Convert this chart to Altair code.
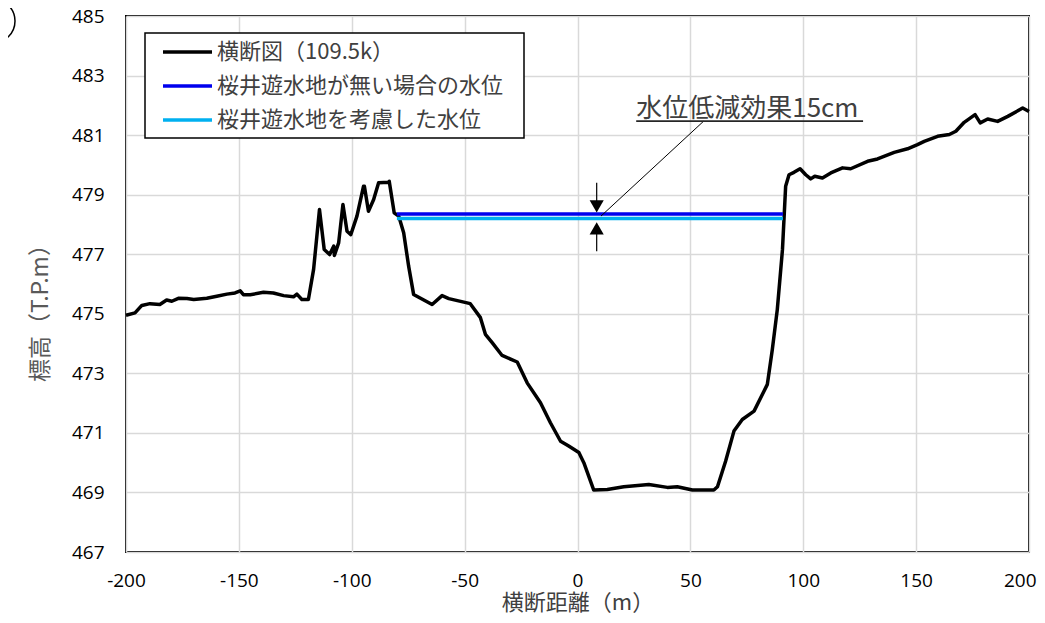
import altair as alt
import pandas as pd

# ---- data ----
profile_x = [-200, -196, -193, -189.4, -185, -182, -179.7, -176.8, -173, -170, -164.2, -159.8,
             -155.3, -151.7, -149.4, -148, -145, -139.1, -134.7, -130.2, -125.8, -124.3, -122.1,
             -119.2, -116.9, -114.3, -112.2, -109.8, -108, -107.7, -105.8, -103.9, -102.1, -100.4,
             -97.7, -94.8, -94.4, -92.6, -90.3, -88.1, -83.7, -83.4, -81.2, -79.2, -77, -74.8,
             -72.6, -64.4, -60, -57, -47.5, -43, -40.8, -37.8, -33.4, -26.7, -22.3, -16.4, -12,
             -7.5, -3.9, 0.6, 2.8, 7.2, 13.2, 20.5, 31.6, 39.8, 44.2, 50.9, 60.4, 62, 65.6, 69.3,
             73, 78.2, 84.1, 86.3, 88.5, 90.8, 92.2, 93.7, 95.9, 98.6, 101.1, 103.3, 105.1, 108.5,
             112.2, 117.4, 121, 128.5, 132.9, 140.3, 146.2, 150.6, 153.6, 159.5, 164.7, 167.6,
             171.3, 176.1, 178.4, 181.7, 186.1, 190.6, 197.2, 200]
profile_y = [474.95, 475.03, 475.28, 475.34, 475.31, 475.46, 475.42, 475.52, 475.51, 475.48, 475.52,
             475.59, 475.66, 475.70, 475.77, 475.64, 475.64, 475.72, 475.70, 475.61, 475.57, 475.66,
             475.48, 475.48, 476.49, 478.50, 477.16, 476.99, 477.27, 476.96, 477.38, 478.67, 477.77,
             477.66, 478.28, 479.28, 479.28, 478.44, 478.84, 479.40, 479.42, 479.45, 478.39, 478.28,
             477.72, 476.60, 475.65, 475.31, 475.61, 475.51, 475.34, 474.87, 474.31, 474.03, 473.60,
             473.38, 472.68, 472.01, 471.34, 470.72, 470.56, 470.34, 470.00, 469.08, 469.10, 469.19,
             469.27, 469.17, 469.19, 469.08, 469.08, 469.19, 470.05, 471.06, 471.45, 471.73, 472.63,
             473.80, 475.14, 477.16, 479.28, 479.67, 479.75, 479.87, 479.67, 479.53, 479.62, 479.56,
             479.73, 479.90, 479.87, 480.12, 480.20, 480.42, 480.54, 480.68, 480.79, 480.96, 481.02,
             481.13, 481.43, 481.69, 481.41, 481.54, 481.46, 481.63, 481.91, 481.79]

water_x = [-80, 91]
level_without = 478.35   # 桜井遊水地が無い場合の水位
level_with = 478.20      # 桜井遊水地を考慮した水位

legend_labels = ["横断図（109.5k）", "桜井遊水地が無い場合の水位", "桜井遊水地を考慮した水位"]
legend_colors = ["#000000", "#0000ee", "#00b0f0"]

x_ticks = [-200, -150, -100, -50, 0, 50, 100, 150, 200]
y_ticks = [467, 469, 471, 473, 475, 477, 479, 481, 483, 485]

annot_text = "水位低減効果15cm"

# ---- scales ----
xs = alt.Scale(domain=[-200, 200], nice=False, zero=False)
ys = alt.Scale(domain=[467, 485], nice=False, zero=False)

CJK = "Noto Sans CJK JP"

x_axis = alt.Axis(values=x_ticks, title="横断距離（m）", grid=True, domain=False, ticks=False,
                  labelFlush=False, labelExpr="'' + datum.value", labelFont="Open Sans",
                  labelFontSize=19, labelColor="#000000", labelPadding=19,
                  labelAlign=alt.condition("datum.value == 200", alt.value("right"), alt.value("center")),
                  labelOffset=alt.condition("datum.value == 200", alt.value(7), alt.value(0)),
                  titleFont=CJK, titleFontSize=22, titleFontWeight="normal", titleColor="#404040",
                  titlePadding=2)
y_axis = alt.Axis(values=y_ticks, title="標高（T.P.m）", grid=True, domain=False, ticks=False,
                  labelFlush=False, labelFont="Open Sans", labelFontSize=19, labelColor="#000000",
                  labelPadding=22, titleFont=CJK, titleFontSize=23, titleFontWeight="normal",
                  titleColor="#595959", titleAngle=270, titleX=-86, titleY=291,
                  titleAlign="center", titleBaseline="middle")


def X(f="x"):
    return alt.X(f + ":Q", scale=xs, axis=x_axis)


def Y(f="y"):
    return alt.Y(f + ":Q", scale=ys, axis=y_axis)


prof_df = pd.DataFrame({"x": profile_x, "y": profile_y})
profile = alt.Chart(prof_df).mark_line(color="black", strokeWidth=3.5, strokeJoin="round").encode(
    x=X(), y=Y())


def hline(level, color):
    df = pd.DataFrame({"x": [water_x[0]], "x2": [water_x[1]], "y": [level]})
    return alt.Chart(df).mark_rule(color=color, strokeWidth=3.6).encode(
        x=X(), x2="x2:Q", y=Y())


blue = hline(level_without, legend_colors[1])
cyan = hline(level_with, legend_colors[2])

# ---- annotation ----
shaft_df = pd.DataFrame({"x": [8.5, 8.5], "y": [479.40, 477.10], "y2": [478.75, 477.75]})
shafts = alt.Chart(shaft_df).mark_rule(color="black", strokeWidth=1.2).encode(
    x=X(), y=Y(), y2="y2:Q")
head_dn = alt.Chart(pd.DataFrame({"x": [8.5], "y": [478.61]})).mark_point(
    shape="triangle-down", filled=True, size=200, color="black", opacity=1).encode(x=X(), y=Y())
head_up = alt.Chart(pd.DataFrame({"x": [8.5], "y": [477.87]})).mark_point(
    shape="triangle-up", filled=True, size=200, color="black", opacity=1).encode(x=X(), y=Y())
leader = alt.Chart(pd.DataFrame({"x": [10.4], "y": [478.28], "x2": [55.9], "y2": [481.47]})).mark_rule(
    color="black", strokeWidth=1).encode(x=X(), y=Y(), x2="x2:Q", y2="y2:Q")
underline = alt.Chart(pd.DataFrame({"x": [26.0], "x2": [126.5], "y": [481.47]})).mark_rule(
    color="#262626", strokeWidth=1.6).encode(x=X(), x2="x2:Q", y=Y())
label = alt.Chart(pd.DataFrame({"x": [26.0], "y": [481.60], "t": [annot_text]})).mark_text(
    align="left", baseline="alphabetic", font=CJK, fontSize=26, color="#404040").encode(
    x=X(), y=Y(), text="t:N")

# ---- legend (drawn as marks) ----
one = pd.DataFrame({"k": [0]})
legend_box = alt.Chart(one).mark_rect(fill="white", stroke="black", strokeWidth=1.5).encode(
    x=alt.value(19), x2=alt.value(398), y=alt.value(17), y2=alt.value(122))
legend_layers = [legend_box]
for i, (lab, col) in enumerate(zip(legend_labels, legend_colors)):
    yy = 36 + 34 * i
    d = pd.DataFrame({"label": [lab]})
    legend_layers.append(alt.Chart(d).mark_rule(color=col, strokeWidth=3.6).encode(
        x=alt.value(37), x2=alt.value(86), y=alt.value(yy)))
    legend_layers.append(alt.Chart(d).mark_text(
        align="left", baseline="middle", font=CJK, fontSize=22, color="#404040").encode(
        x=alt.value(91), y=alt.value(yy), text="label:N"))

arc = alt.Chart(one).mark_point(shape="circle", filled=False, size=1936, color="black",
                                strokeWidth=1.5, opacity=1).encode(
    x=alt.value(-133), y=alt.value(5))

chart = alt.layer(profile, blue, cyan, shafts, head_dn, head_up, leader, underline, label,
                  *legend_layers, arc).properties(
    width=903, height=536,
    autosize=alt.AutoSizeParams(type="none"),
    padding={"left": 118, "top": 8, "right": 8, "bottom": 63},
    background="white",
).configure_view(stroke="black", strokeWidth=2).configure_axis(
    gridColor="#d9d9d9", gridWidth=1.5, gridOpacity=1)

chart.save("out.html", embed_options={"renderer": "svg", "actions": False})
